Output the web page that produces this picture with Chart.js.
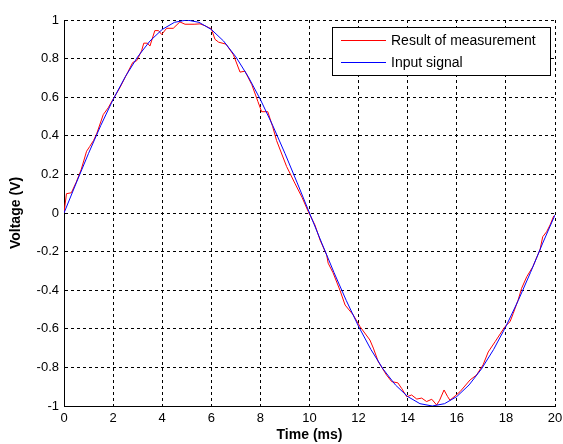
<!DOCTYPE html>
<html lang="en">
<head>
<meta charset="UTF-8">
<title>Measurement vs input signal</title>
<style>
  html, body { margin: 0; padding: 0; background: #fff; }
  #wrap { width: 563px; height: 444px; }
</style>
<script src="https://cdn.jsdelivr.net/npm/chart.js"></script>
</head>
<body>
<div id="wrap"><canvas id="plot" width="563" height="444"></canvas></div>
<script>
// Input signal (blue), one reading every 0.5 ms
const inputTime = [0, 0.5, 1, 1.5, 2, 2.5, 3, 3.5, 4, 4.5, 5, 5.5, 6, 6.5, 7, 7.5, 8, 8.5, 9, 9.5,
                   10, 10.5, 11, 11.5, 12, 12.5, 13, 13.5, 14, 14.5, 15, 15.5, 16, 16.5, 17, 17.5, 18, 18.5, 19, 19.5, 20];
const inputVolt = [0, 0.156, 0.309, 0.454, 0.588, 0.707, 0.809, 0.891, 0.951, 0.988, 1, 0.988, 0.951, 0.891, 0.809, 0.707, 0.588, 0.454, 0.309, 0.156,
                   0, -0.156, -0.309, -0.454, -0.588, -0.707, -0.809, -0.891, -0.951, -0.988, -1, -0.988, -0.951, -0.891, -0.809, -0.707, -0.588, -0.454, -0.309, -0.156, -0.01];

const measTime = [0, 0.1, 0.3, 0.5, 0.7, 0.92, 1.05, 1.2, 1.33, 1.6, 1.8, 2.0, 2.28, 2.6, 2.8, 2.96, 3.16, 3.25, 3.4, 3.5,
                  3.7, 3.85, 3.98, 4.18, 4.45, 4.72, 4.93, 5.3, 5.54, 5.75, 5.9, 6.0, 6.15, 6.3, 6.6, 6.9, 7.17, 7.37, 7.65, 7.9,
                  8.05, 8.3, 8.5, 8.66, 9.07, 9.2, 9.4, 9.7, 9.95, 10.22, 10.43, 10.7, 10.76, 10.96, 11.24, 11.45, 11.78, 12.06, 12.46, 12.6,
                  12.8, 13.14, 13.35, 13.6, 13.76, 13.96, 14.16, 14.37, 14.57, 14.77, 14.98, 15.18, 15.3, 15.48, 15.62, 15.72, 15.93, 16.13, 16.54, 16.8,
                  17.07, 17.28, 17.56, 17.96, 18.17, 18.3, 18.5, 18.64, 18.85, 19.1, 19.39, 19.5, 19.66, 19.8, 19.95];
const measVolt = [0, 0.10, 0.105, 0.16, 0.225, 0.32, 0.345, 0.375, 0.41, 0.51, 0.545, 0.59, 0.65, 0.73, 0.78, 0.789, 0.84, 0.88, 0.88, 0.865,
                  0.945, 0.945, 0.925, 0.957, 0.957, 0.99, 0.978, 0.978, 0.98, 0.97, 0.96, 0.955, 0.90, 0.885, 0.875, 0.82, 0.73, 0.735, 0.665, 0.577,
                  0.525, 0.525, 0.447, 0.375, 0.24, 0.207, 0.155, 0.08, 0.007, -0.062, -0.14, -0.218, -0.26, -0.31, -0.40, -0.477, -0.528, -0.589, -0.658, -0.70,
                  -0.77, -0.84, -0.874, -0.88, -0.91, -0.952, -0.943, -0.964, -0.959, -0.977, -0.965, -0.995, -0.97, -0.917, -0.95, -0.97, -0.948, -0.926, -0.865, -0.84,
                  -0.787, -0.72, -0.667, -0.589, -0.563, -0.52, -0.45, -0.39, -0.33, -0.278, -0.19, -0.123, -0.097, -0.062, -0.015];

const xTicks = [0, 2, 4, 6, 8, 10, 12, 14, 16, 18, 20];
const yTicks = [-1, -0.8, -0.6, -0.4, -0.2, 0, 0.2, 0.4, 0.6, 0.8, 1];

const toPoints = (xs, ys) => xs.map((x, i) => ({ x: x, y: ys[i] }));

Chart.defaults.font.family = 'Arial, "Liberation Sans", sans-serif';
Chart.defaults.color = '#000';

// MATLAB style legend: white box with a black frame, inside the top right corner
const boxLegend = {
  id: 'boxLegend',
  afterDraw(chart) {
    const { ctx, chartArea } = chart;
    const sets = chart.data.datasets;
    ctx.save();
    ctx.font = '14px Arial, "Liberation Sans", sans-serif';
    const textW = Math.max(...sets.map(d => ctx.measureText(d.label).width));
    const w = Math.round(59 + textW + 14), h = 48;
    const x0 = Math.round(chartArea.right - 5 - w), y0 = Math.round(chartArea.top + 7);
    ctx.fillStyle = '#fff';
    ctx.fillRect(x0, y0, w, h);
    ctx.strokeStyle = '#000';
    ctx.lineWidth = 1;
    ctx.strokeRect(x0 + 0.5, y0 + 0.5, w, h);
    sets.forEach((d, i) => {
      const y = Math.round(y0 + 13 + i * 21.5);
      ctx.strokeStyle = d.borderColor;
      ctx.beginPath();
      ctx.moveTo(x0 + 9, y + 0.5);
      ctx.lineTo(x0 + 54, y + 0.5);
      ctx.stroke();
      ctx.fillStyle = '#000';
      ctx.textBaseline = 'middle';
      ctx.fillText(d.label, x0 + 59, y + 1);
    });
    ctx.restore();
  }
};

new Chart(document.getElementById('plot'), {
  type: 'scatter',
  data: {
    datasets: [
      {
        label: 'Result of measurement',
        data: toPoints(measTime, measVolt),
        showLine: true,
        borderColor: '#ff0000',
        borderWidth: 1,
        pointRadius: 0,
        order: 2
      },
      {
        label: 'Input signal',
        data: toPoints(inputTime, inputVolt),
        showLine: true,
        borderColor: '#0000ff',
        borderWidth: 1,
        pointRadius: 0,
        order: 1
      }
    ]
  },
  options: {
    responsive: false,
    animation: false,
    layout: { padding: { top: 20, right: 8, left: 0, bottom: 0 } },
    plugins: { legend: { display: false }, tooltip: { enabled: false } },
    scales: {
      x: {
        type: 'linear',
        min: 0, max: 20,
        afterBuildTicks: axis => { axis.ticks = xTicks.map(v => ({ value: v })); },
        afterFit: scale => { scale.height = 38; scale.paddingLeft = 0; scale.paddingRight = 0; },
        ticks: { font: { size: 13 }, padding: 5, maxRotation: 0, autoSkip: false, callback: v => String(v) },
        grid: { color: '#000', lineWidth: 1, drawTicks: false },
        border: { color: '#000', width: 1, dash: [3, 3] },
        title: { display: true, text: 'Time (ms)', font: { size: 14, weight: 'bold' }, padding: { top: 0, bottom: 0 } }
      },
      y: {
        min: -1, max: 1,
        afterBuildTicks: axis => { axis.ticks = yTicks.map(v => ({ value: v })); },
        afterFit: scale => { scale.width = 64; scale.paddingTop = 0; scale.paddingBottom = 0; },
        ticks: { font: { size: 13 }, padding: 5, autoSkip: false, callback: v => String(Math.round(v * 10) / 10) },
        grid: { color: '#000', lineWidth: 1, drawTicks: false },
        border: { color: '#000', width: 1, dash: [3, 3] },
        title: { display: true, text: 'Voltage (V)', font: { size: 14, weight: 'bold' }, padding: { top: 8, bottom: 0 } }
      }
    }
  },
  plugins: [boxLegend]
});
</script>
</body>
</html>
